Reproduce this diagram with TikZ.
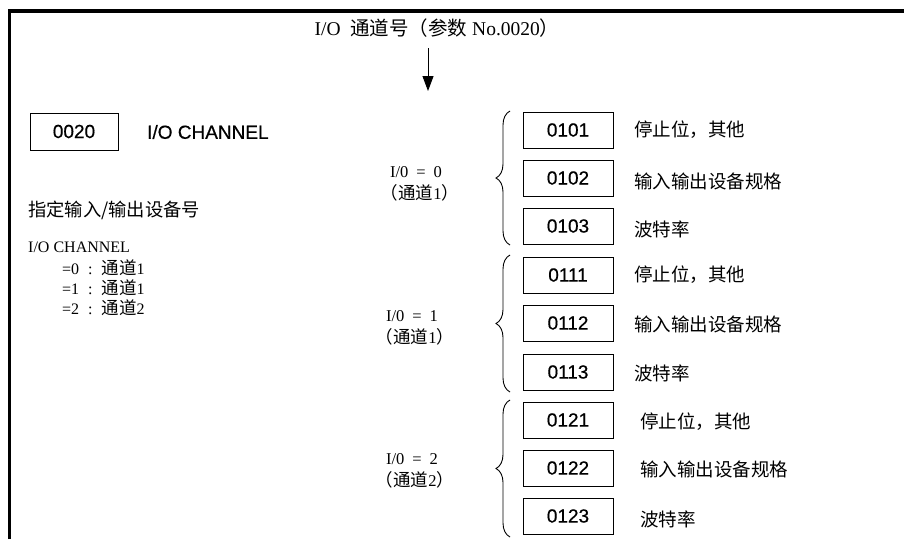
\documentclass[tikz,border=0pt]{standalone}
\usepackage{fontspec}
\setmainfont{Liberation Serif}
\newfontfamily\cjk{Noto Sans CJK SC}
\newfontfamily\sansf[FakeBold=0.5]{Liberation Sans}
\usetikzlibrary{arrows.meta,decorations.pathreplacing}
\tikzset{
  regbox/.style={draw, line width=1pt, minimum width=90pt, minimum height=36pt, inner sep=0pt,
    font=\sansf\fontsize{19}{21}\selectfont},
  desc/.style={anchor=west, inner sep=0pt, font=\cjk\fontsize{18.5}{20}\selectfont},
  serif/.style={anchor=west, inner sep=0pt, font=\fontsize{16}{18}\selectfont},
  grp/.style={anchor=center, inner sep=0pt, font=\fontsize{16.5}{18}\selectfont},
  brc/.style={decorate, decoration={brace, amplitude=14pt, aspect=0.5}, line width=0.9pt},
}
\newcommand{\lcjk}[1]{{\cjk\fontsize{17.5}{18}\selectfont #1}}
\begin{document}
\begin{tikzpicture}[x=1pt,y=-1pt]
\useasboundingbox (0,0) rectangle (904,539);
\fill[white] (0,0) rectangle (904,539);
% frame (top and left)
\draw[line width=3.6pt, line join=miter] (9.5,539) -- (9.5,11) -- (904,11);
% title and arrow
\node[inner sep=0pt, font=\fontsize{19.5}{21}\selectfont] (title) at (437,28)
  {I/O\ \ {\cjk 通道号（参数}\ No.0020{\cjk ）}};
\coordinate (arrtop) at (428,48);
\coordinate (arrend) at (428,91);
\draw[line width=0.9pt, -{Triangle[length=15pt,width=11pt]}] (arrtop) -- (arrend);
% parameter box
\node[regbox, minimum width=88pt, minimum height=37pt] (p0020) at (74,131.5) {0020};
\node[anchor=west, inner sep=0pt, font=\sansf\fontsize{19}{21}\selectfont] (chan) at (147,132) {I/O CHANNEL};
% left description
\node[desc, font=\cjk\fontsize{18.3}{20}\selectfont] (spec) at (28,210) {指定输入/输出设备号};
\node[serif] (l0) at (28,247) {I/O CHANNEL};
\node[serif] (l1) at (62,268) {=0\hspace{9pt}:\hspace{9pt}\lcjk{通道}1};
\node[serif] (l2) at (62,288) {=1\hspace{9pt}:\hspace{9pt}\lcjk{通道}1};
\node[serif] (l3) at (62,308) {=2\hspace{9pt}:\hspace{9pt}\lcjk{通道}2};
% group 1
\node[regbox] (b0101) at (568,130) {0101};
\node[regbox] (b0102) at (568,178) {0102};
\node[regbox] (b0103) at (568,226) {0103};
\node[desc] (d0101) at (634,130) {停止位，其他};
\node[desc] (d0102) at (634,181) {输入输出设备规格};
\node[desc] (d0103) at (634,229) {波特率};
\node[grp] (g0a) at (416,172) {I/0\hspace{8pt}=\hspace{8pt}0};
\node[grp] (g0b) at (420,193) {\lcjk{（通道}1\lcjk{）}};
\coordinate (br0t) at (510,111);
\coordinate (br0b) at (510,245);
\draw[brc] (br0b) -- (br0t);
% group 2
\node[regbox] (b0111) at (568,275) {0111};
\node[regbox] (b0112) at (568,323) {0112};
\node[regbox] (b0113) at (568,372) {0113};
\node[desc] (d0111) at (634,275) {停止位，其他};
\node[desc] (d0112) at (634,324) {输入输出设备规格};
\node[desc] (d0113) at (634,373) {波特率};
\node[grp] (g1a) at (412,316) {I/0\hspace{8pt}=\hspace{8pt}1};
\node[grp] (g1b) at (415,337) {\lcjk{（通道}1\lcjk{）}};
\coordinate (br1t) at (510,255);
\coordinate (br1b) at (510,392);
\draw[brc] (br1b) -- (br1t);
% group 3
\node[regbox] (b0121) at (568,420) {0121};
\node[regbox] (b0122) at (568,468) {0122};
\node[regbox] (b0123) at (568,516) {0123};
\node[desc] (d0121) at (640,422) {停止位，其他};
\node[desc] (d0122) at (640,469) {输入输出设备规格};
\node[desc] (d0123) at (640,519) {波特率};
\node[grp] (g2a) at (412,459) {I/0\hspace{8pt}=\hspace{8pt}2};
\node[grp] (g2b) at (415,480) {\lcjk{（通道}2\lcjk{）}};
\coordinate (br2t) at (510,400);
\coordinate (br2b) at (510,537);
\draw[brc] (br2b) -- (br2t);
\end{tikzpicture}
\end{document}
